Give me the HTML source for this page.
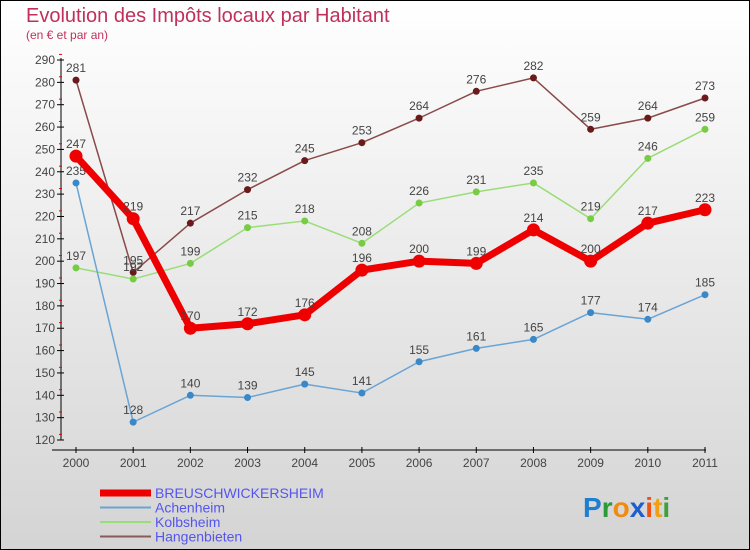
<!DOCTYPE html>
<html><head><meta charset="utf-8"><style>
body{margin:0}
#c{width:750px;height:550px;position:relative;overflow:hidden;font-family:"Liberation Sans",sans-serif}
</style></head><body>
<div id="c">
<svg id="s" width="750" height="550" xmlns="http://www.w3.org/2000/svg">
<defs><linearGradient id="bg" x1="0" y1="0" x2="0" y2="1"><stop offset="0" stop-color="#ffffff"/><stop offset="1" stop-color="#d4d4d4"/></linearGradient></defs>
<rect x="0.5" y="0.5" width="749" height="549" fill="url(#bg)" stroke="#000"/>
<text x="26" y="22" font-size="20" fill="#c0305a">Evolution des Impôts locaux par Habitant</text>
<text x="26" y="39" font-size="12" fill="#c0305a">(en € et par an)</text>
<g id="axes"></g><g id="series"></g><g id="legend"></g>
<text x="583" y="517" font-size="28" font-weight="bold"><tspan fill="#1e7fd0">P</tspan><tspan fill="#2a9a3a">r</tspan><tspan fill="#f08a10">o</tspan><tspan fill="#1e5fd0">x</tspan><tspan fill="#f05010">i</tspan><tspan fill="#f0a010">t</tspan><tspan fill="#40a040">i</tspan></text>
</svg></div>
<script>
const years=["2000","2001","2002","2003","2004","2005","2006","2007","2008","2009","2010","2011"];
const breusch=[247,219,170,172,176,196,200,199,214,200,217,223];
const achenheim=[235,128,140,139,145,141,155,161,165,177,174,185];
const kolbsheim=[197,192,199,215,218,208,226,231,235,219,246,259];
const hangenbieten=[281,195,217,232,245,253,264,276,282,259,264,273];
const yTicks=[120,130,140,150,160,170,180,190,200,210,220,230,240,250,260,270,280,290];
const NS="http://www.w3.org/2000/svg";
const X=i=>76+i*(705-76)/11;
const Y=v=>440-(v-120)*(380/170);
function mk(t,a,p){const e=document.createElementNS(NS,t);for(const k in a)e.setAttribute(k,a[k]);p.appendChild(e);return e;}
const ax=document.getElementById('axes');
const yl=mk('line',{x1:61,y1:58,x2:61,y2:440,stroke:'#000','stroke-width':1},ax);


yTicks.forEach(v=>{
 const y=Y(v);
 mk('line',{x1:57,y1:y,x2:64,y2:y,stroke:'#000'},ax);
 mk('line',{x1:59,y1:y-5.6,x2:62,y2:y-5.6,stroke:'#e00'},ax);
 const t=mk('text',{x:55,y:y+4,'font-size':12,'text-anchor':'end',fill:'#444'},ax);
 t.textContent=v;
 
 
});
const xl=mk('line',{x1:52,y1:450,x2:706,y2:450,stroke:'#000','stroke-width':1},ax);


years.forEach((yr,i)=>{
 mk('line',{x1:X(i),y1:447,x2:X(i),y2:453,stroke:'#000'},ax);
 const t=mk('text',{x:X(i),y:467,'font-size':12,'text-anchor':'middle',fill:'#444'},ax);
 t.textContent=yr;
 
 
});
const sg=document.getElementById('series');
function series(data,color,w,r,dot,name){
 const g=mk('g',{},sg);
 
 
 mk('polyline',{points:data.map((v,i)=>X(i)+','+Y(v)).join(' '),fill:'none',stroke:color,'stroke-width':w,'stroke-linejoin':'round'},g);
 data.forEach((v,i)=>{
  const c=mk('circle',{cx:X(i),cy:Y(v),r:r,fill:dot},g);
  
  
  const t=mk('text',{x:X(i),y:Y(v)-8,'font-size':12,'text-anchor':'middle',fill:'#444'},g);
  t.textContent=v;
  
  
 });
}
series(hangenbieten,'#8a4a4a',1.5,3.5,'#6a1a1a','hangenbieten');
series(kolbsheim,'#99dd77',1.5,3.5,'#77cc44','kolbsheim');
series(achenheim,'#6aa4d4',1.5,3.5,'#3a88c8','achenheim');
series(breusch,'#ee0000',7,6.5,'#ee0000','breuschwickersheim');
const lg=document.getElementById('legend');
const items=[["BREUSCHWICKERSHEIM","#ee0000",7],["Achenheim","#6aa4d4",2],["Kolbsheim","#99dd77",2],["Hangenbieten","#8a5a5a",2]];
items.forEach((it,i)=>{
 const y=493+i*14.5;
 mk('line',{x1:100,y1:y,x2:151,y2:y,stroke:it[1],'stroke-width':it[2]},lg);
 const t=mk('text',{x:155,y:y+5,'font-size':14,fill:'#5555ee'},lg);
 t.textContent=it[0];
 
 
});
</script>
</body></html>
